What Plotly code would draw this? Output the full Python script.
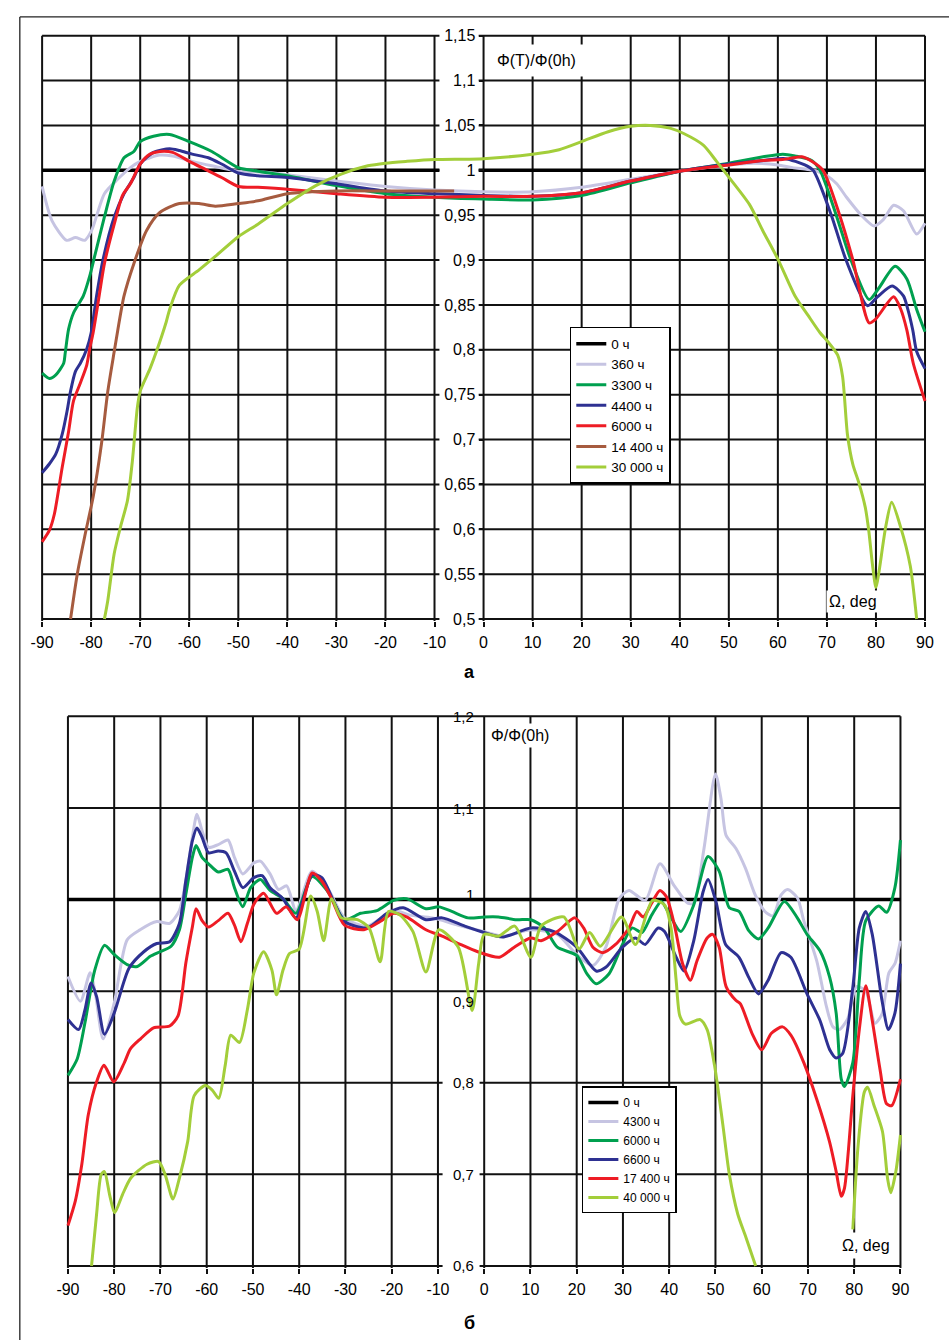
import plotly.graph_objects as go

W, H = 949, 1340
FONT = "Liberation Sans, Arial, sans-serif"

# ---------------- panel a (top) ----------------
TOP_X_TICKS = [-90, -80, -70, -60, -50, -40, -30, -20, -10, 0, 10, 20, 30, 40, 50, 60, 70, 80, 90]
TOP_X_LABELS = [str(v) for v in TOP_X_TICKS]
TOP_Y_TICKS = [0.5, 0.55, 0.6, 0.65, 0.7, 0.75, 0.8, 0.85, 0.9, 0.95, 1.0, 1.05, 1.1, 1.15]
TOP_Y_LABELS = ["0,5", "0,55", "0,6", "0,65", "0,7", "0,75", "0,8", "0,85", "0,9", "0,95",
                "1", "1,05", "1,1", "1,15"]

T0_X = [-90, -9, None, -1, 90]
T0_Y = [1.0, 1.0, None, 1.0, 1.0]

T360_X = [-90, -88, -85, -83.2, -81.3, -79.9, -77.3, -74.6, -72, -70,
          -66, -63.4, -59.4, -55.4, -50, -45, -40, -30, -20, -10,
          0, 10, 20, 30, 40, 50, 55, 60, 63, 66,
          68, 70, 72, 74, 77, 79.6, 81.5, 83.6, 85.6, 88.3,
          90]
T360_Y = [0.982, 0.944, 0.922, 0.925, 0.922, 0.933, 0.974, 0.990, 1.003, 1.010,
          1.017, 1.016, 1.010, 1.005, 0.999, 0.998, 0.995, 0.988, 0.982, 0.978,
          0.976, 0.976, 0.981, 0.990, 0.999, 1.006, 1.008, 1.006, 1.003, 1.001,
          0.999, 0.994, 0.985, 0.970, 0.950, 0.938, 0.945, 0.961, 0.955, 0.929,
          0.941]

T3300_X = [-90, -88.5, -87.2, -85.6, -85.3, -84.6, -83.6, -81.6, -80.3, -79.3,
           -77.3, -75.3, -73.3, -71.3, -70, -67.3, -64, -60, -55.4, -50,
           -46, -40, -30, -20, -10, 0, 10, 20, 30, 40,
           50, 57, 61, 63.5, 66.9, 68.6, 71.9, 74.9, 78.6, 80.5,
           83.9, 86.3, 88.3, 90]
T3300_Y = [0.774, 0.768, 0.772, 0.785, 0.796, 0.823, 0.841, 0.860, 0.882, 0.904,
           0.948, 0.988, 1.014, 1.021, 1.032, 1.038, 1.040, 1.032, 1.021, 1.003,
           0.999, 0.994, 0.983, 0.974, 0.970, 0.968, 0.967, 0.972, 0.986, 0.999,
           1.008, 1.015, 1.018, 1.016, 1.011, 1.000, 0.950, 0.900, 0.856, 0.868,
           0.893, 0.879, 0.845, 0.820]

T4400_X = [-90, -88.5, -87.2, -85.9, -84.9, -84.2, -83.2, -82.2, -80.9, -80,
           -78.9, -77.6, -75.3, -73.3, -71.3, -70, -67.3, -64, -62, -59.4,
           -56.1, -53.4, -50, -46, -40, -30, -20, -10, 0, 10,
           20, 30, 40, 50, 57, 61.5, 65.5, 67.2, 70.9, 73.9,
           78.3, 80.3, 83.3, 85.6, 86.5, 87.5, 88.3, 90]
T4400_Y = [0.663, 0.673, 0.684, 0.706, 0.732, 0.754, 0.776, 0.785, 0.801, 0.819,
           0.860, 0.900, 0.948, 0.974, 0.992, 1.007, 1.020, 1.024, 1.022, 1.018,
           1.014, 1.007, 0.997, 0.994, 0.992, 0.985, 0.977, 0.974, 0.972, 0.971,
           0.975, 0.988, 0.999, 1.007, 1.011, 1.013, 1.006, 1.000, 0.950, 0.900,
           0.849, 0.859, 0.871, 0.860, 0.845, 0.822, 0.798, 0.779]

T6000_X = [-90, -88.5, -87.5, -85.9, -84.6, -83.6, -82.2, -80.9, -80.3, -79.6,
           -78.6, -77.3, -75.3, -73.6, -72, -70, -68, -66, -63.4, -60,
           -56.7, -53.4, -50, -46, -40, -30, -20, -10, 0, 10,
           20, 30, 40, 50, 57, 61, 64.9, 66.9, 69.2, 72.6,
           75.3, 78.6, 79.9, 83.6, 85, 86.3, 87.6, 90]
T6000_Y = [0.586, 0.599, 0.617, 0.669, 0.709, 0.743, 0.763, 0.783, 0.801, 0.819,
           0.852, 0.896, 0.940, 0.972, 0.985, 1.007, 1.018, 1.021, 1.020, 1.010,
           1.001, 0.992, 0.982, 0.981, 0.979, 0.974, 0.970, 0.970, 0.971, 0.971,
           0.975, 0.988, 0.999, 1.006, 1.011, 1.012, 1.015, 1.010, 1.000, 0.950,
           0.900, 0.830, 0.834, 0.859, 0.846, 0.822, 0.785, 0.743]

T14400_X = [-84.2, -82.8, -81.2, -79.6, -77.9, -76.6, -75.3, -74.6, -73.3, -71.3,
            -68.7, -66, -62, -58, -54.7, -50, -46, -40, -30, -20,
            -6]
T14400_Y = [0.500, 0.551, 0.595, 0.636, 0.695, 0.754, 0.798, 0.821, 0.860, 0.896,
            0.933, 0.953, 0.963, 0.963, 0.960, 0.963, 0.966, 0.974, 0.977, 0.977,
            0.977]

T30000_X = [-77.3, -76.6, -75.3, -74, -72.6, -71.6, -70.6, -70, -68, -66.7,
            -64.7, -64, -62, -58, -54.7, -50, -46, -40, -34.2, -28.9,
            -23.6, -20, -15.6, -10, 0, 10, 15.4, 20, 25.4, 30,
            34, 38, 40.8, 44.8, 47.5, 50.2, 54.2, 56.9, 60.1, 63.5,
            66.2, 68.6, 70.2, 72.2, 73.2, 74.2, 75.3, 76.5, 77.8, 78.5,
            79.3, 80, 80.6, 82, 83.2, 85, 87, 88.3]
T30000_Y = [0.500, 0.521, 0.573, 0.603, 0.632, 0.676, 0.735, 0.754, 0.779, 0.798,
            0.831, 0.845, 0.872, 0.889, 0.904, 0.926, 0.940, 0.963, 0.983, 0.996,
            1.005, 1.008, 1.010, 1.012, 1.013, 1.018, 1.023, 1.032, 1.043, 1.049,
            1.050, 1.047, 1.041, 1.028, 1.010, 0.991, 0.962, 0.933, 0.900, 0.860,
            0.838, 0.819, 0.809, 0.794, 0.770, 0.705, 0.672, 0.652, 0.625, 0.600,
            0.560, 0.535, 0.552, 0.603, 0.630, 0.603, 0.559, 0.500]

# ---------------- panel б (bottom) ----------------
BOT_X_TICKS = TOP_X_TICKS
BOT_X_LABELS = TOP_X_LABELS
BOT_Y_TICKS = [0.6, 0.7, 0.8, 0.9, 1.0, 1.1, 1.2]
BOT_Y_LABELS = ["0,6", "0,7", "0,8", "0,9", "1", "1,1", "1,2"]
BOT_Y_LABEL_SHIFT = [0, 0, 0, -10, 5, -1, 0]

B0_X = [-90, 90]
B0_Y = [1.0, 1.0]

B4300_X = [-90, -87.3, -85.2, -84, -82.4, -80, -77.2, -74.4, -70.8, -68,
           -65.9, -64.5, -63.1, -62.1, -61, -59.6, -57.5, -55.4, -54, -52.2,
           -49.8, -48.4, -46.3, -44.5, -42.7, -40.7, -37.2, -33.7, -30.2, -25.3,
           -19.6, -16.1, -11.2, -5.6, 0, 4.2, 10.1, 15.8, 20, 23.5,
           26.3, 29.2, 31.3, 34.8, 38, 41.1, 44, 45.3, 47.5, 50,
           51.2, 52.3, 54.4, 56.5, 58.6, 60.7, 62.4, 64.2, 65.6, 67.7,
           69.1, 71.9, 74, 75.4, 76.8, 78.6, 80.5, 82.5, 84.5, 86,
           87.5, 88.8, 90]
B4300_Y = [0.916, 0.889, 0.920, 0.895, 0.848, 0.887, 0.956, 0.967, 0.976, 0.974,
           0.988, 1.021, 1.068, 1.093, 1.075, 1.057, 1.060, 1.065, 1.046, 1.028,
           1.040, 1.042, 1.028, 1.011, 1.015, 0.988, 1.031, 1.011, 0.980, 0.971,
           0.988, 0.983, 0.980, 0.972, 0.965, 0.960, 0.967, 0.962, 0.940, 0.928,
           0.948, 1.001, 1.010, 0.999, 1.039, 1.015, 0.996, 0.996, 1.055, 1.137,
           1.110, 1.070, 1.056, 1.034, 1.005, 0.987, 0.982, 1.005, 1.011, 1.002,
           0.977, 0.933, 0.883, 0.861, 0.858, 0.870, 0.905, 0.900, 0.865, 0.875,
           0.920, 0.930, 0.955]

B6000_X = [-90, -88, -86.3, -84.2, -82.1, -80, -77.2, -75, -72.2, -70.1,
           -67.7, -65.9, -64.5, -63.1, -62.3, -61, -59.6, -57.5, -55.4, -54,
           -52.2, -50.5, -48.4, -46.3, -43.5, -40.7, -37.2, -33.7, -30.2, -26.7,
           -23.2, -19.6, -16.8, -12.6, -9.8, -7, -3.5, 0, 3.1, 7,
           10.1, 13, 15.8, 20, 22.2, 24.2, 27, 29.9, 32, 34.1,
           36.2, 38.3, 40.1, 42.5, 45.3, 48.4, 50.8, 53, 55.1, 57.2,
           59.3, 61.4, 64.9, 67.7, 69.8, 72.6, 74.7, 76.1, 77.2, 77.9,
           79.7, 81.1, 82.5, 85.3, 87, 88.8, 90]
B6000_Y = [0.808, 0.826, 0.866, 0.923, 0.950, 0.940, 0.929, 0.927, 0.938, 0.943,
           0.949, 0.967, 1.006, 1.046, 1.059, 1.046, 1.039, 1.030, 1.033, 1.013,
           0.992, 1.013, 1.022, 1.010, 1.001, 0.985, 1.025, 1.008, 0.978, 0.985,
           0.988, 0.999, 1.001, 0.990, 0.992, 0.987, 0.980, 0.981, 0.981, 0.978,
           0.978, 0.969, 0.948, 0.939, 0.919, 0.908, 0.919, 0.951, 0.969, 0.964,
           0.983, 0.998, 0.983, 0.965, 0.994, 1.047, 1.031, 0.991, 0.987, 0.966,
           0.957, 0.969, 0.998, 0.980, 0.962, 0.944, 0.915, 0.876, 0.804, 0.796,
           0.822, 0.912, 0.977, 0.993, 0.986, 1.013, 1.065]

B6600_X = [-90, -87.7, -86.3, -85, -83.8, -82.1, -80, -76.8, -73.6, -70.8,
           -68, -65.9, -64.5, -63.1, -62.1, -61, -59.6, -57.5, -55.8, -54,
           -52.2, -49.8, -48, -46.3, -43.5, -40.7, -37.2, -35.1, -32.3, -30.2,
           -25.3, -21, -17.5, -12.6, -9.1, -4.2, 0, 4, 10.1, 15.1,
           20, 24.2, 26.3, 29.9, 32.7, 34.8, 37.6, 39, 41.5, 43.2,
           45.3, 47.3, 48.4, 50.1, 52.2, 55.1, 57.2, 59.3, 61.4, 64.2,
           66.3, 69.8, 72.6, 74.7, 76.1, 77.5, 79.7, 81.1, 82.5, 83.9,
           86, 87.4, 88.8, 90]
B6600_Y = [0.869, 0.858, 0.880, 0.909, 0.894, 0.853, 0.876, 0.925, 0.943, 0.952,
           0.954, 0.974, 1.021, 1.064, 1.078, 1.068, 1.051, 1.053, 1.051, 1.031,
           1.013, 1.024, 1.026, 1.013, 1.001, 0.980, 1.027, 1.024, 0.995, 0.976,
           0.969, 0.985, 0.991, 0.978, 0.980, 0.971, 0.964, 0.959, 0.969, 0.965,
           0.948, 0.922, 0.926, 0.948, 0.958, 0.951, 0.969, 0.965, 0.937, 0.922,
           0.955, 1.008, 1.022, 0.998, 0.951, 0.937, 0.915, 0.897, 0.912, 0.942,
           0.937, 0.897, 0.868, 0.836, 0.827, 0.832, 0.904, 0.969, 0.987, 0.962,
           0.890, 0.858, 0.876, 0.930]

B17400_X = [-90, -88.4, -87, -85.6, -83.8, -82.2, -80.1, -77.8, -76.5, -74.3,
            -71.5, -68, -66.2, -64.5, -63.1, -62.3, -61, -59.6, -57.5, -55.4,
            -54, -52.6, -51.2, -49.8, -47.7, -44.9, -42.8, -40.4, -37.2, -35.1,
            -33, -30.2, -26, -22.5, -19.6, -16.8, -12.6, -9.1, -5.6, -1.4,
            3.3, 6.5, 10.1, 12.3, 15.8, 19.6, 21.5, 23.5, 25.6, 28.4,
            31.3, 33, 34.4, 36.2, 38, 39.4, 41.1, 42.9, 44.6, 46,
            48.2, 49.4, 50.8, 52.3, 54.4, 55.4, 57.9, 60, 62.1, 64.5,
            66.3, 69.1, 71.9, 74.7, 76.1, 77.2, 77.9, 79.7, 81.1, 82.5,
            83.9, 85.6, 87, 88.1, 90]
B17400_Y = [0.644, 0.671, 0.711, 0.765, 0.801, 0.819, 0.801, 0.822, 0.837, 0.848,
            0.860, 0.862, 0.873, 0.931, 0.970, 0.990, 0.977, 0.970, 0.977, 0.985,
            0.972, 0.954, 0.974, 0.995, 1.007, 0.985, 0.992, 0.978, 1.029, 1.020,
            1.001, 0.972, 0.967, 0.976, 0.985, 0.981, 0.967, 0.960, 0.952, 0.943,
            0.937, 0.948, 0.958, 0.955, 0.965, 0.980, 0.969, 0.948, 0.942, 0.951,
            0.969, 0.987, 0.981, 0.996, 1.010, 1.003, 0.973, 0.930, 0.912, 0.933,
            0.958, 0.962, 0.948, 0.905, 0.890, 0.886, 0.854, 0.836, 0.854, 0.861,
            0.852, 0.822, 0.782, 0.735, 0.703, 0.676, 0.685, 0.786, 0.858, 0.906,
            0.868, 0.814, 0.777, 0.775, 0.804]

B40000_X = [-84.9, -83.8, -82.8, -82.1, -81, -79.9, -78.2, -76.4, -72.9, -70.4,
            -69, -67.3, -65.9, -64.1, -62.7, -60.3, -58.8, -57.4, -56, -54.8,
            -52.9, -51.2, -49.8, -47.7, -45.9, -44.9, -43.5, -42.1, -40, -37.5,
            -36.1, -34.7, -33, -30.9, -27.4, -24.9, -22.5, -20.7, -18.2, -15.4,
            -12.6, -9.8, -5.6, -2.6, -1.2, 0, 3.1, 6.6, 10.1, 12.3,
            17.2, 20.5, 22.8, 25.1, 29.7, 32.7, 36.4, 39, 40.4, 41.5,
            42.3, 43.5, 46.7, 48.2, 49.8, 51.6, 53, 54.8, 56.6, 58.7,
            None, 79.7, 80.8, 82.2, 82.9, 84.3, 86.1, 87.2, 87.9, 89,
            90]
B40000_Y = [0.600, 0.657, 0.700, 0.703, 0.678, 0.658, 0.678, 0.696, 0.711, 0.714,
            0.700, 0.673, 0.696, 0.736, 0.786, 0.797, 0.792, 0.783, 0.819, 0.852,
            0.844, 0.880, 0.920, 0.943, 0.923, 0.896, 0.923, 0.941, 0.946, 1.004,
            0.987, 0.955, 1.001, 0.980, 0.978, 0.969, 0.932, 0.987, 0.983, 0.965,
            0.921, 0.967, 0.948, 0.879, 0.930, 0.962, 0.960, 0.971, 0.937, 0.971,
            0.981, 0.946, 0.964, 0.949, 0.981, 0.951, 0.999, 0.994, 0.969, 0.912,
            0.873, 0.864, 0.869, 0.858, 0.819, 0.754, 0.700, 0.657, 0.631, 0.600,
            None, 0.640, 0.729, 0.790, 0.795, 0.775, 0.747, 0.696, 0.680, 0.703,
            0.743]

# ---------------- styles ----------------
BLACK = "#000000"
LAVENDER = "#C6C4E2"
GREEN = "#00A04F"
BLUE = "#2E3192"
RED = "#EE1C25"
BROWN = "#A65B3F"
LIME = "#A3CE3A"
GRID = "#111111"
GAP = (-9, -1)   # label gap between the -10 and 0 grid lines


def fx(p):   # pixel x -> paper fraction
    return p / W


def fy(p):   # pixel y (from top) -> paper fraction
    return 1 - p / H


def geom_x(v0, v1, p0, p1, pad=2.0):
    k = (p1 - p0) / (v1 - v0)
    return dict(domain=[fx(p0 - pad), fx(p1 + pad)], range=[v0 - pad / k, v1 + pad / k]), k


def geom_y(v0, v1, p0, p1, pad=2.0):
    k = (p0 - p1) / (v1 - v0)
    return dict(domain=[fy(p0 + pad), fy(p1 - pad)], range=[v0 - pad / k, v1 + pad / k])


TX, TKX = geom_x(-90, 90, 32.7, 931.7)
TY = geom_y(0.5, 1.15, 619, 30)
BX, BKX = geom_x(-90, 90, 59, 906.7)
BY = geom_y(0.6, 1.2, 1272.3, 717.3)
top_axis_pos = fx(32.7 + 90 * TKX)
bot_axis_pos = fx(59 + 90 * BKX)

fig = go.Figure()


def add(xs, ys, name, color, width, xa, ya, leg):
    fig.add_trace(go.Scatter(
        x=xs, y=ys, name=name, mode="lines", xaxis=xa, yaxis=ya, legend=leg,
        connectgaps=False, hoverinfo="skip",
        line=dict(color=color, width=width, shape="spline", smoothing=0.7)))


add(T0_X, T0_Y, "0 ч", BLACK, 3.5, "x", "y", "legend")
add(T360_X, T360_Y, "360 ч", LAVENDER, 3, "x", "y", "legend")
add(T3300_X, T3300_Y, "3300 ч", GREEN, 3, "x", "y", "legend")
add(T4400_X, T4400_Y, "4400 ч", BLUE, 3, "x", "y", "legend")
add(T6000_X, T6000_Y, "6000 ч", RED, 3, "x", "y", "legend")
add(T14400_X, T14400_Y, "14 400 ч", BROWN, 3, "x", "y", "legend")
add(T30000_X, T30000_Y, "30 000 ч", LIME, 3, "x", "y", "legend")

add(B0_X, B0_Y, "0 ч", BLACK, 3.5, "x2", "y2", "legend2")
add(B4300_X, B4300_Y, "4300 ч", LAVENDER, 3, "x2", "y2", "legend2")
add(B6000_X, B6000_Y, "6000 ч", GREEN, 3, "x2", "y2", "legend2")
add(B6600_X, B6600_Y, "6600 ч", BLUE, 3, "x2", "y2", "legend2")
add(B17400_X, B17400_Y, "17 400 ч", RED, 3, "x2", "y2", "legend2")
add(B40000_X, B40000_Y, "40 000 ч", LIME, 3, "x2", "y2", "legend2")

shapes = []


def grid(xticks, yticks, xa, ya, yrange_lo, gapped):
    yhi = max(yticks)
    for xv in xticks:
        shapes.append(dict(type="line", xref=xa, yref=ya, x0=xv, x1=xv, y0=yrange_lo, y1=yhi,
                           line=dict(color=GRID, width=2), layer="below"))
    for yv in yticks:
        if gapped(yv):
            segs = [(min(xticks), GAP[0]), (GAP[1], max(xticks))]
        else:
            segs = [(min(xticks), max(xticks))]
        for a, b in segs:
            shapes.append(dict(type="line", xref=xa, yref=ya, x0=a, x1=b, y0=yv, y1=yv,
                               line=dict(color=GRID, width=2), layer="below"))


grid(TOP_X_TICKS, TOP_Y_TICKS, "x", "y", TY["range"][0], lambda v: True)
grid(BOT_X_TICKS, BOT_Y_TICKS, "x2", "y2", BY["range"][0], lambda v: v < 0.85)

# outer frame (left and top edges)
shapes.append(dict(type="line", xref="paper", yref="paper", x0=fx(10), x1=1.02, y0=fy(11), y1=fy(11),
                   line=dict(color="#222222", width=1.3)))
shapes.append(dict(type="line", xref="paper", yref="paper", x0=fx(10), x1=fx(10), y0=fy(11), y1=-0.02,
                   line=dict(color="#222222", width=1.3)))

annotations = []


def text(x, y, s, size=16, bg=None, pad=1, bold=False):
    annotations.append(dict(
        xref="paper", yref="paper", x=fx(x), y=fy(y), xanchor="center", yanchor="middle",
        text=f"<b>{s}</b>" if bold else s, showarrow=False,
        font=dict(family=FONT, size=size, color="black"),
        bgcolor=bg if bg else "rgba(0,0,0,0)", borderpad=pad))


text(536, 55.5, "Φ(T)/Φ(0h)", 16, "white", 7)
text(858.5, 601.5, "Ω, deg", 16, "white", 2)
text(519, 736.5, "Φ/Φ(0h)", 16, "white", 3)
text(871.5, 1251.5, "Ω, deg", 16, "white", 4)
text(468, 673, "а", 18, bold=True)
text(468, 1330, "б", 18, bold=True)

for v, lab, sh in zip(BOT_Y_TICKS, BOT_Y_LABELS, BOT_Y_LABEL_SHIFT):
    annotations.append(dict(
        xref="x2", yref="y2", x=0, y=v, xanchor="right", yanchor="middle", xshift=-8, yshift=sh,
        text=lab, showarrow=False, font=dict(family=FONT, size=15, color="black")))

axis_common = dict(showgrid=False, zeroline=False, showline=False, fixedrange=True,
                   tickfont=dict(family=FONT, size=16, color="black"))

fig.update_layout(
    width=W, height=H, margin=dict(l=0, r=0, t=0, b=0),
    paper_bgcolor="white", plot_bgcolor="white",
    font=dict(family=FONT, color="black"),
    xaxis=dict(domain=TX["domain"], range=TX["range"], anchor="y",
               tickmode="array", tickvals=TOP_X_TICKS, ticktext=TOP_X_LABELS,
               ticks="outside", ticklen=5, tickwidth=2, tickcolor=GRID, ticklabelstandoff=2,
               **axis_common),
    yaxis=dict(domain=TY["domain"], range=TY["range"], anchor="free", position=top_axis_pos,
               side="left", tickmode="array", tickvals=TOP_Y_TICKS, ticktext=TOP_Y_LABELS,
               ticks="outside", ticklen=5, tickwidth=2, tickcolor=GRID, **axis_common),
    xaxis2=dict(domain=BX["domain"], range=BX["range"], anchor="y2",
                tickmode="array", tickvals=BOT_X_TICKS, ticktext=BOT_X_LABELS,
                ticks="outside", ticklen=5, tickwidth=2, tickcolor=GRID, ticklabelstandoff=2,
                **axis_common),
    yaxis2=dict(domain=BY["domain"], range=BY["range"], anchor="free", position=bot_axis_pos,
                side="left", showticklabels=False, ticks="", **axis_common),
    legend=dict(x=fx(570), y=fy(324), xanchor="left", yanchor="top",
                bgcolor="white", bordercolor="black", borderwidth=1.5,
                font=dict(family=FONT, size=13.5, color="black"), tracegroupgap=0, itemwidth=30),
    legend2=dict(x=fx(582.3), y=fy(1091), xanchor="left", yanchor="top",
                 bgcolor="white", bordercolor="black", borderwidth=1.5,
                 font=dict(family=FONT, size=12, color="black"), tracegroupgap=0, itemwidth=30),
    shapes=shapes,
    annotations=annotations,
    showlegend=True,
)

fig.write_html("out.html",
               post_script="document.body.style.margin='0';document.body.style.padding='0';")
